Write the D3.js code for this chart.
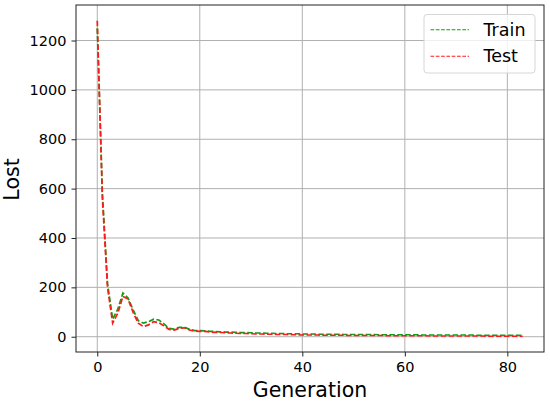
<!DOCTYPE html>
<html>
<head>
<meta charset="utf-8">
<script src="https://cdn.jsdelivr.net/npm/d3@7"></script>
<style>
  html, body { margin: 0; padding: 0; background: #fff; }
  svg text { font-family: "DejaVu Sans", sans-serif; fill: #000; }
</style>
</head>
<body>
<div id="chart"></div>
<script>
// data
const generations = d3.range(0, 84);
const trainLoss = [1250, 580, 215, 71, 112, 177, 157, 109, 65, 55,
  61, 71, 68, 52, 34, 31, 38, 38, 30, 25,
  25, 24, 22, 21, 20, 19, 19, 18, 17, 17,
  16, 15, 15, 14, 14, 13, 13, 12, 12, 12,
  11, 11, 11, 10, 10, 10, 10, 10, 9, 9,
  9, 9, 9, 9, 9, 8, 8, 8, 8, 8,
  8, 8, 8, 7, 7, 7, 7, 7, 7, 7,
  7, 7, 7, 7, 6, 6, 6, 6, 6, 6,
  6, 6, 6, 6];
const testLoss = [1280, 560, 200, 55, 95, 163, 153, 98, 55, 41,
  48, 61, 57, 44, 30, 27, 34, 36, 27, 23,
  22, 22, 19, 18, 17, 16, 15, 14, 13, 13,
  12, 11, 11, 10, 10, 9, 9, 9, 8, 8,
  7, 7, 7, 7, 6, 6, 6, 6, 6, 5,
  5, 5, 5, 5, 5, 5, 5, 4, 4, 4,
  4, 4, 4, 4, 4, 3, 3, 3, 3, 3,
  3, 3, 3, 3, 3, 3, 2, 2, 2, 2,
  2, 2, 2, 2];
const xTicks = [0, 20, 40, 60, 80];
const yTicks = [0, 200, 400, 600, 800, 1000, 1200];
const seriesNames = ["Train", "Test"];
const seriesColors = ["#129c12", "#ff1a1a"];

const width = 550, height = 405;
const plot = {left: 76, right: 544, top: 5, bottom: 352};

// matplotlib style 5% padding
function padded(ext) {
  let span = ext[1] - ext[0];
  return [ext[0] - span * 0.05, ext[1] + span * 0.05];
}

let x = d3.scaleLinear()
  .domain(padded(d3.extent(generations)))
  .range([plot.left, plot.right]);
let y = d3.scaleLinear()
  .domain(padded(d3.extent(trainLoss.concat(testLoss))))
  .range([plot.bottom, plot.top]);

let svg = d3.select('#chart').append('svg')
  .attr('width', width)
  .attr('height', height);

// grid
svg.append('g')
  .selectAll('line.gx')
  .data(xTicks)
  .enter().append('line')
  .attr('x1', d => x(d)).attr('x2', d => x(d))
  .attr('y1', plot.top).attr('y2', plot.bottom)
  .attr('stroke', '#b0b0b0').attr('stroke-width', 1);
svg.append('g')
  .selectAll('line.gy')
  .data(yTicks)
  .enter().append('line')
  .attr('y1', d => y(d)).attr('y2', d => y(d))
  .attr('x1', plot.left).attr('x2', plot.right)
  .attr('stroke', '#b0b0b0').attr('stroke-width', 1);

// axes
let xAxis = svg.append('g')
  .attr('transform', 'translate(0,' + plot.bottom + ')')
  .call(d3.axisBottom(x).tickValues(xTicks).tickSize(4.5).tickPadding(5).tickFormat(d3.format('d')));
let yAxis = svg.append('g')
  .attr('transform', 'translate(' + plot.left + ',0)')
  .call(d3.axisLeft(y).tickValues(yTicks).tickSize(4.5).tickPadding(5).tickFormat(d3.format('d')));
[xAxis, yAxis].forEach(function (a) {
  a.select('.domain').remove();
  a.selectAll('.tick line').attr('stroke', '#222').attr('stroke-width', 1);
  a.selectAll('.tick text').style('font-size', '14.5px').attr('fill', '#000');
});

// series lines
let line = d3.line()
  .x((d, i) => x(generations[i]))
  .y(d => y(d));

[trainLoss, testLoss].forEach(function (vals, k) {
  svg.append('path')
    .datum(vals)
    .attr('d', line)
    .attr('fill', 'none')
    .attr('stroke', seriesColors[k])
    .attr('stroke-width', 1.7)
    .attr('stroke-dasharray', '5.5,2.4');
});

// frame
svg.append('rect')
  .attr('x', plot.left).attr('y', plot.top)
  .attr('width', plot.right - plot.left)
  .attr('height', plot.bottom - plot.top)
  .attr('fill', 'none')
  .attr('stroke', '#222')
  .attr('stroke-width', 1);

// axis labels
svg.append('text')
  .attr('x', (plot.left + plot.right) / 2)
  .attr('y', 397)
  .attr('text-anchor', 'middle')
  .style('font-size', '20.5px')
  .text('Generation');
svg.append('text')
  .attr('transform', 'translate(19,' + ((plot.top + plot.bottom) / 2 + 1) + ') rotate(-90)')
  .attr('text-anchor', 'middle')
  .style('font-size', '20.5px')
  .text('Lost');

// legend
let legend = svg.append('g');
legend.append('rect')
  .attr('x', 424).attr('y', 14.5)
  .attr('width', 111).attr('height', 58.5)
  .attr('rx', 3)
  .attr('fill', 'rgba(255,255,255,0.8)')
  .attr('stroke', '#d6d6d6')
  .attr('stroke-width', 1);
seriesNames.forEach(function (name, k) {
  let ly = 29.7 + k * 26.6;
  legend.append('line')
    .attr('x1', 430.5).attr('x2', 469)
    .attr('y1', ly).attr('y2', ly)
    .attr('stroke', seriesColors[k])
    .attr('stroke-width', 1.1)
    .attr('stroke-dasharray', '3.7,1.6');
  legend.append('text')
    .attr('x', 483.5)
    .attr('y', ly + 6)
    .style('font-size', '17.5px')
    .text(name);
});
</script>
</body>
</html>
